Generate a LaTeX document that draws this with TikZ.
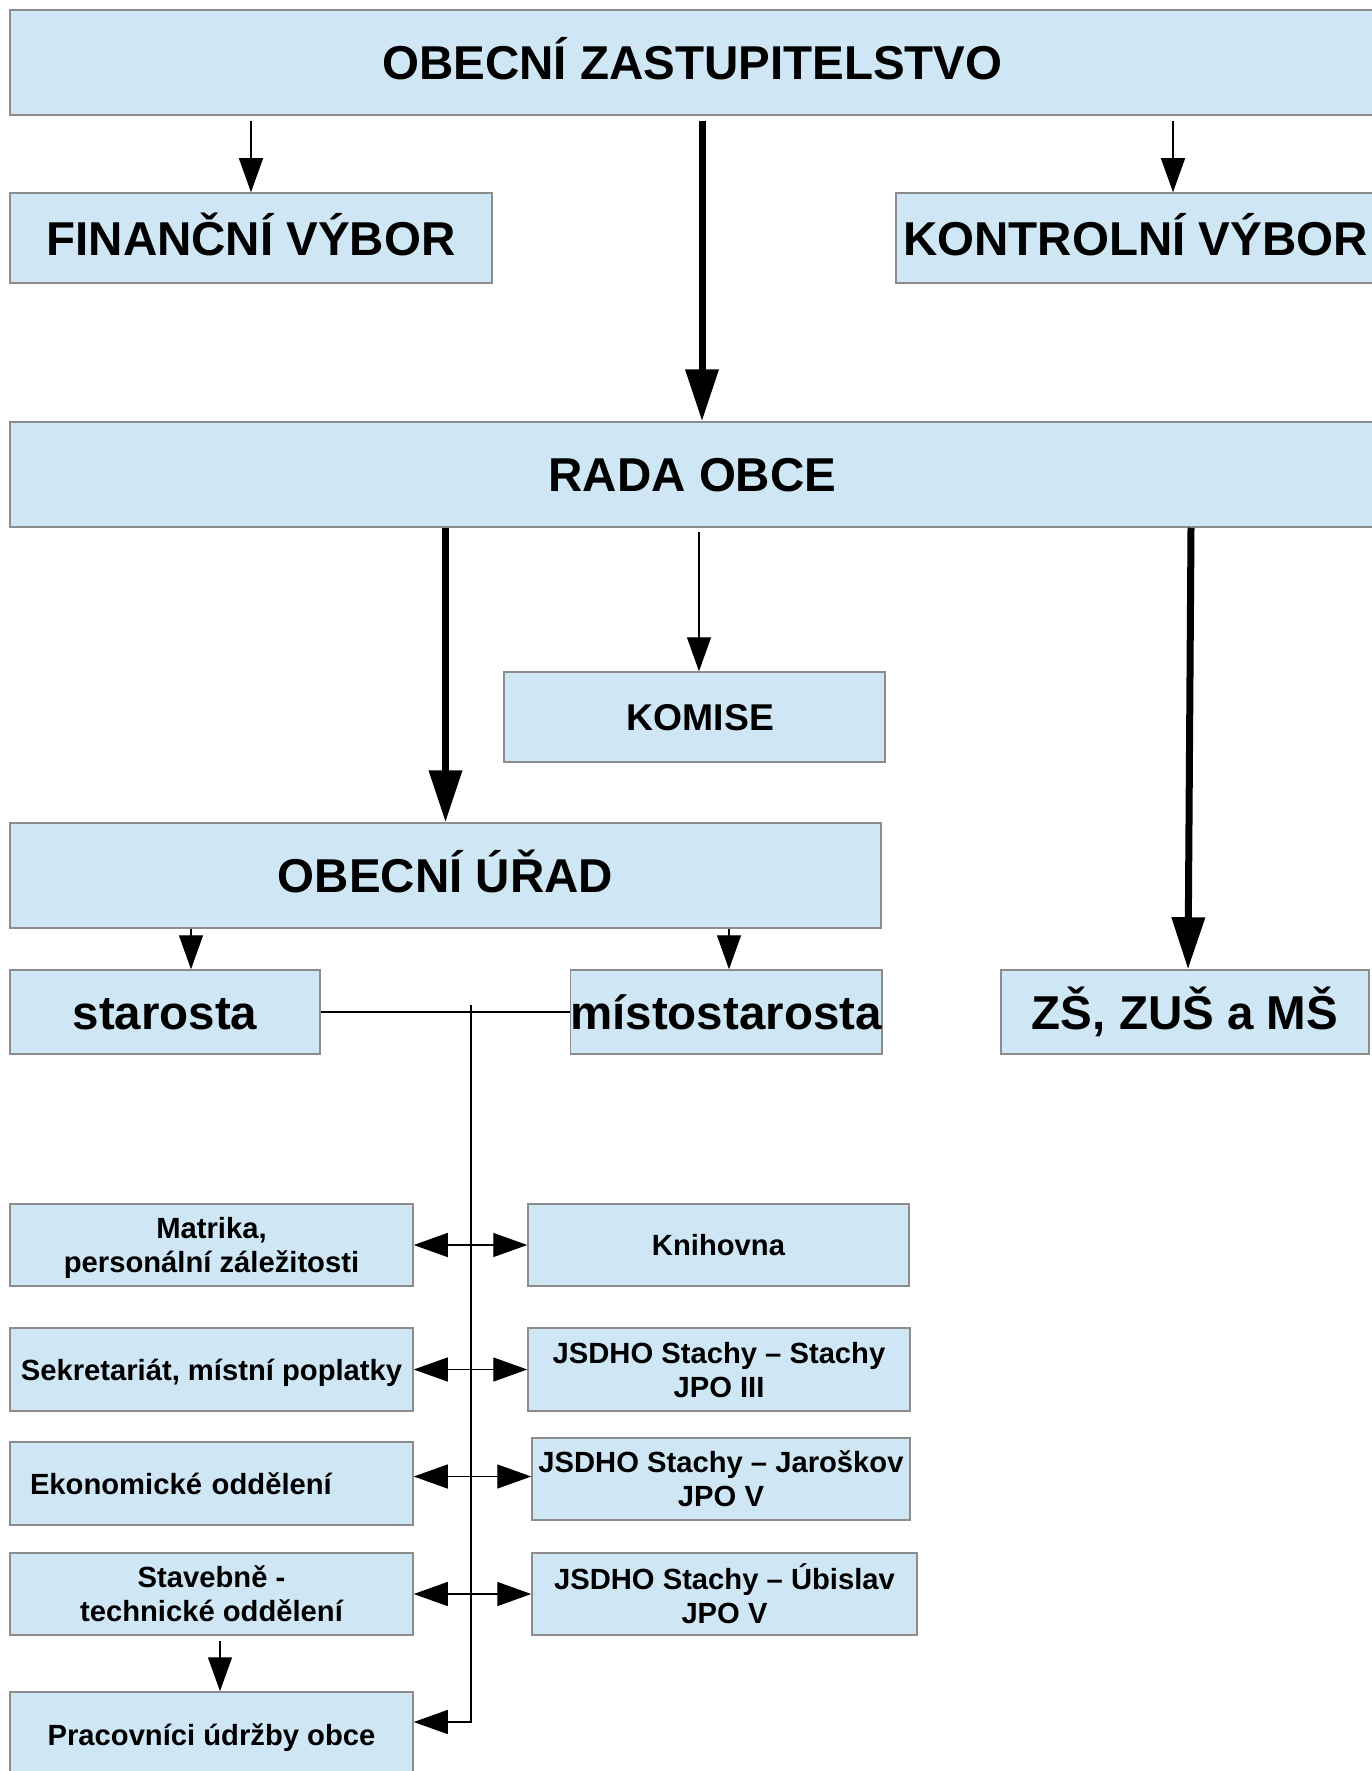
\documentclass[tikz,border=0pt]{standalone}
\usepackage{fontspec}
\setmainfont{Liberation Sans}
\usetikzlibrary{positioning,arrows.meta}
\definecolor{boxblue}{HTML}{CFE7F5}
\definecolor{boxline}{HTML}{8C8C8C}
\tikzset{
  orgbox/.style={draw=boxline,line width=1.5pt,fill=boxblue,inner xsep=2pt,inner ysep=0pt,align=center},
  bigtxt/.style={font=\fontsize{47.5}{56}\selectfont\bfseries,text height=34pt,text depth=0pt},
  midtxt/.style={font=\fontsize{37.3}{44}\selectfont\bfseries,text height=26.7pt,text depth=0pt},
  smalltxt/.style={font=\fontsize{29.2}{34}\selectfont\bfseries,text depth=0pt},
  thinarr/.style={line width=1.3pt,draw=black,-{Triangle[length=34pt,width=24pt]}},
  thickarr/.style={line width=7pt,-{Triangle[length=52pt,width=32pt]}},
}
\begin{document}
\begin{tikzpicture}[x=1pt,y=-1pt]
\useasboundingbox (0,0) rectangle (1371,1771);
% Top levels.
\node[orgbox,bigtxt,minimum width=1365pt,minimum height=105pt] (zast) at (692.5,62.5) {OBECNÍ ZASTUPITELSTVO};
\node[orgbox,bigtxt,minimum width=482pt,minimum height=90pt] (fin) at (251,238) {FINANČNÍ VÝBOR};
\node[orgbox,bigtxt,minimum width=479pt,minimum height=90pt] (kon) at (1135.5,238) {KONTROLNÍ VÝBOR};
\node[orgbox,bigtxt,minimum width=1365pt,minimum height=105pt] (rada) at (692.5,474.5) {RADA OBCE};
\node[orgbox,midtxt,text width=377pt,minimum height=90pt] (komise) at (694.5,717) {\hspace*{12pt}KOMISE};
\node[orgbox,bigtxt,minimum width=871pt,minimum height=105pt] (urad) at (445.5,875.5) {OBECNÍ ÚŘAD};
\node[orgbox,bigtxt,minimum width=310pt,minimum height=84pt] (staro) at (165,1012) {starosta};
\node[orgbox,bigtxt,inner xsep=0pt,minimum width=310pt,minimum height=84pt] (misto) at (726,1012) {místostarosta};
\node[orgbox,bigtxt,minimum width=368pt,minimum height=84pt] (zs) at (1185,1012) {ZŠ, ZUŠ a MŠ};
% Departments, left column.
\node[orgbox,smalltxt,minimum width=403pt,minimum height=82pt] (matrika) at (211.5,1245) {Matrika,\\ personální záležitosti};
\node[orgbox,smalltxt,minimum width=403pt,minimum height=83pt] (sekr) at (211.5,1369.5) {Sekretariát, místní poplatky};
\node[orgbox,smalltxt,inner xsep=20pt,text width=363pt,align=left,minimum height=83pt] (ekon) at (211.5,1483.5) {Ekonomické oddělení};
\node[orgbox,smalltxt,minimum width=403pt,minimum height=82pt] (stav) at (211.5,1594) {Stavebně -\\ technické oddělení};
\node[orgbox,smalltxt,minimum width=403pt,minimum height=86pt] (prac) at (211.5,1735) {Pracovníci údržby obce};
% Right column.
\node[orgbox,smalltxt,minimum width=381pt,minimum height=82pt] (knih) at (718.5,1245) {Knihovna};
\node[orgbox,smalltxt,minimum width=382pt,minimum height=83pt] (jsdhoA) at (719,1369.5) {JSDHO Stachy – Stachy\\ JPO III};
\node[orgbox,smalltxt,minimum width=378pt,minimum height=82pt] (jsdhoB) at (721,1479) {JSDHO Stachy – Jaroškov\\ JPO V};
\node[orgbox,smalltxt,minimum width=385pt,minimum height=82pt] (jsdhoC) at (724.5,1594) {JSDHO Stachy – Úbislav\\ JPO V};
% Connectors.
\draw[thinarr,shorten <=5pt] (fin.north |- zast.south) -- (fin.north);
\draw[thinarr,shorten <=5pt] ([xshift=37.5pt]kon.north |- zast.south) -- ([xshift=37.5pt]kon.north);
\draw[thickarr,shorten <=5pt] ([xshift=9.5pt]zast.south) -- ([xshift=9.5pt]rada.north);
\draw[thickarr] (urad.north |- rada.south) -- (urad.north);
\draw[thinarr,shorten <=4pt] ([xshift=4.5pt]komise.north |- rada.south) -- ([xshift=4.5pt]komise.north);
\draw[thickarr] ([xshift=6pt]zs.north |- rada.south) -- ([xshift=3pt]zs.north);
\draw[thinarr] ([xshift=26pt]staro.north |- urad.south) -- ([xshift=26pt]staro.north);
\draw[thinarr] ([xshift=3pt]misto.north |- urad.south) -- ([xshift=3pt]misto.north);
\draw[line width=1.3pt] (staro) -- (misto);
\coordinate (ttop) at (471,1005);
\coordinate (tbot) at (471,1722);
\draw[thinarr] (ttop) -- (tbot) -- (tbot -| prac.east);
\foreach \l/\r/\d in {matrika/knih/0,sekr/jsdhoA/0,ekon/jsdhoB/7,stav/jsdhoC/0}{
  \coordinate (row) at ([yshift=\d pt]\l.east);
  \draw[thinarr] (ttop |- row) -- (row);
  \draw[thinarr] (ttop |- row) -- (row -| \r.west);
}
\draw[thinarr,shorten <=5pt] ([xshift=8.5pt]stav.south) -- ([xshift=8.5pt]prac.north);
\end{tikzpicture}
\end{document}
